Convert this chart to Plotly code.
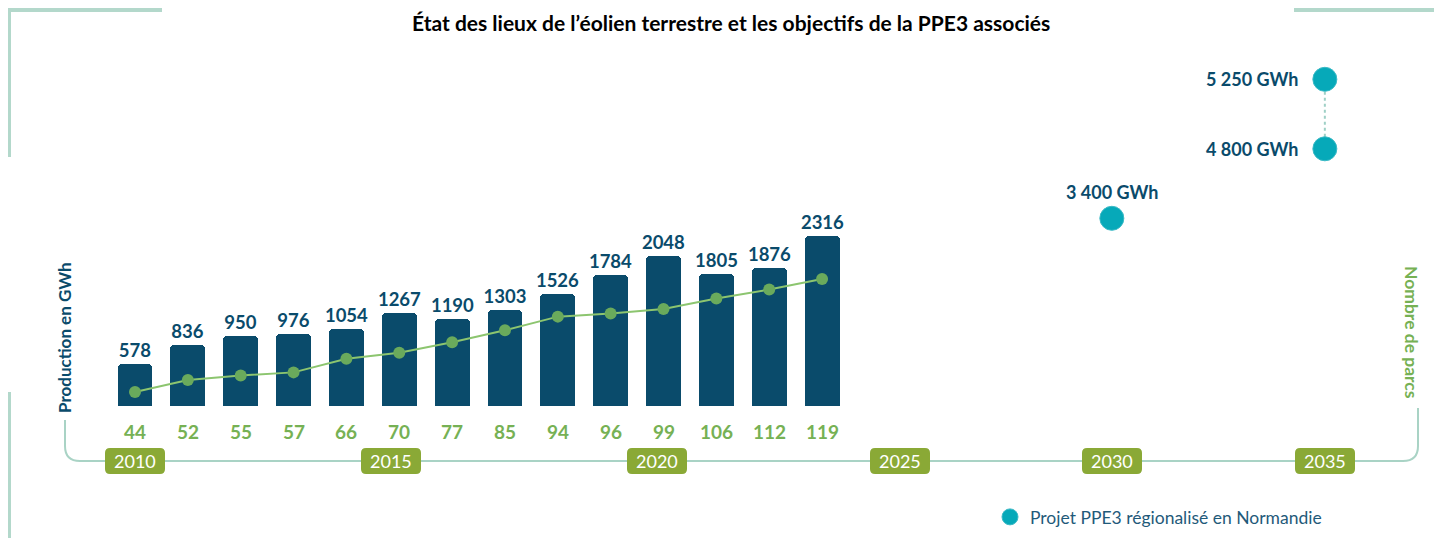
import plotly.graph_objects as go

# ---------------- data ----------------
years = [2010, 2011, 2012, 2013, 2014, 2015, 2016, 2017, 2018, 2019, 2020, 2021, 2022, 2023]
production_gwh = [578, 836, 950, 976, 1054, 1267, 1190, 1303, 1526, 1784, 2048, 1805, 1876, 2316]
nombre_parcs = [44, 52, 55, 57, 66, 70, 77, 85, 94, 96, 99, 106, 112, 119]

ppe_years = [2030, 2035, 2035]
ppe_values = [3400, 4800, 5250]

timeline_labels = ["2010", "2015", "2020", "2025", "2030", "2035"]

title_text = "État des lieux de l’éolien terrestre et les objectifs de la PPE3 associés"
legend_text = "Projet PPE3 régionalisé en Normandie"

# ---------------- layout helpers ----------------
OX, OY = 8, 8          # page offset of the figure (body margin)
W, H = 1434, 530
FONT = "Lato"
C_BAR = "#0a4b6b"
C_GREEN = "#76b154"
C_LINE = "#8cc56f"
C_MARK = "#6aaa5c"
C_PILL = "#8aa936"
C_TEAL = "#06a9b9"
C_FRAME = "#b3d8cb"


def fx(p):
    return (p - OX) / W


def fy(p):
    return 1 - (p - OY) / H


def fmt(v):
    return f"{v:,}".replace(",", " ") + " GWh"


ppe_labels = [fmt(v) for v in ppe_values]

fig = go.Figure()

# production bars
fig.add_trace(go.Bar(
    x=years, y=production_gwh,
    width=0.66,
    marker=dict(color=C_BAR, cornerradius=4, line=dict(width=0)),
    text=[str(v) for v in production_gwh],
    textposition="outside",
    constraintext="none",
    textfont=dict(family=FONT, size=18.5, color=C_BAR, weight="bold"),
    cliponaxis=False,
    showlegend=False,
    xaxis="x", yaxis="y",
))

# number of parks line
fig.add_trace(go.Scatter(
    x=years, y=nombre_parcs,
    mode="lines+markers",
    line=dict(color=C_LINE, width=2),
    marker=dict(color=C_MARK, size=12),
    showlegend=False,
    xaxis="x", yaxis="y2",
))

# dotted connector between 2035 targets
fig.add_trace(go.Scatter(
    x=ppe_years[1:], y=ppe_labels[1:],
    mode="lines",
    line=dict(color="#9fd0c6", width=2, dash="dot"),
    showlegend=False, hoverinfo="skip",
    xaxis="x2", yaxis="y3",
))

# PPE3 targets
fig.add_trace(go.Scatter(
    x=ppe_years, y=ppe_labels,
    mode="markers",
    marker=dict(color=C_TEAL, size=24, line=dict(color="#3bbac6", width=1)),
    name=legend_text,
    showlegend=True,
    xaxis="x2", yaxis="y3",
))

annotations = []

# value labels of targets
for yr, lab in zip(ppe_years, ppe_labels):
    if yr == 2030:
        annotations.append(dict(x=yr, y=lab, xref="x2", yref="y3", text=lab,
                                showarrow=False, xanchor="center", yanchor="bottom",
                                yshift=13,
                                font=dict(family=FONT, size=18, color=C_BAR, weight="bold")))
    else:
        annotations.append(dict(x=yr, y=lab, xref="x2", yref="y3", text=lab,
                                showarrow=False, xanchor="right", yanchor="middle",
                                xshift=-25,
                                font=dict(family=FONT, size=18, color=C_BAR, weight="bold")))

# parks count labels
for yr, n in zip(years, nombre_parcs):
    annotations.append(dict(x=yr, y=fy(431), xref="x", yref="paper", text=str(n),
                            showarrow=False, xanchor="center", yanchor="middle",
                            font=dict(family=FONT, size=19, color=C_GREEN, weight="bold")))

# timeline pills
pill_x_px = [135, 391, 657, 900, 1112, 1325]
pill_y_px = 461
pill_w, pill_h, pill_r = 60, 26, 5
shapes = []
for lab, px in zip(timeline_labels, pill_x_px):
    x0, x1 = px - pill_w / 2, px + pill_w / 2
    y0, y1 = pill_y_px - pill_h / 2, pill_y_px + pill_h / 2
    r = pill_r
    pts = [
        ("M", (x0 + r, y0)), ("L", (x1 - r, y0)), ("Q", (x1, y0, x1, y0 + r)),
        ("L", (x1, y1 - r)), ("Q", (x1, y1, x1 - r, y1)), ("L", (x0 + r, y1)),
        ("Q", (x0, y1, x0, y1 - r)), ("L", (x0, y0 + r)), ("Q", (x0, y0, x0 + r, y0)),
    ]
    path = ""
    for cmd, c in pts:
        if cmd == "Q":
            path += f"Q {fx(c[0])},{fy(c[1])} {fx(c[2])},{fy(c[3])} "
        else:
            path += f"{cmd} {fx(c[0])},{fy(c[1])} "
    path += "Z"
    shapes.append(dict(type="path", path=path, xref="paper", yref="paper",
                       fillcolor=C_PILL, line=dict(width=0), layer="above"))
    annotations.append(dict(x=fx(px), y=fy(pill_y_px), xref="paper", yref="paper",
                            text=lab, showarrow=False, xanchor="center", yanchor="middle",
                            font=dict(family=FONT, size=18, color="white")))

# timeline curve
tl = (f"M {fx(65)},{fy(420)} L {fx(65)},{fy(446)} Q {fx(65)},{fy(461)} {fx(80)},{fy(461)} "
      f"L {fx(1403)},{fy(461)} Q {fx(1418)},{fy(461)} {fx(1418)},{fy(446)} L {fx(1418)},{fy(408)}")
shapes.insert(0, dict(type="path", path=tl, xref="paper", yref="paper",
                      line=dict(color="#a9d3c5", width=2), layer="below"))

# frame decorations
for (xa, ya, xb, yb) in [(9, 10, 9, 157), (7, 10, 162, 10), (1294, 10, 1442, 10), (9, 392, 9, 538)]:
    shapes.append(dict(type="line", x0=fx(xa), y0=fy(ya), x1=fx(xb), y1=fy(yb),
                       xref="paper", yref="paper", line=dict(color=C_FRAME, width=4)))

# axis titles
annotations.append(dict(x=fx(64), y=fy(338), xref="paper", yref="paper",
                        text="Production en GWh", textangle=-90, showarrow=False,
                        xanchor="center", yanchor="middle",
                        font=dict(family=FONT, size=17, color=C_BAR, weight="bold")))
annotations.append(dict(x=fx(1412), y=fy(332), xref="paper", yref="paper",
                        text="Nombre de parcs", textangle=90, showarrow=False,
                        xanchor="center", yanchor="middle",
                        font=dict(family=FONT, size=17.5, color=C_GREEN, weight="bold")))

# title
annotations.append(dict(x=fx(731), y=1, xref="paper", yref="paper",
                        text=title_text, showarrow=False, xanchor="center", yanchor="top",
                        font=dict(family=FONT, size=21, color="black", weight="bold")))

fig.update_layout(
    width=W, height=H,
    margin=dict(l=0, r=0, t=0, b=0),
    paper_bgcolor="white", plot_bgcolor="white",
    xaxis=dict(range=[2007.597, 2034.73], visible=False, domain=[0, 1]),
    xaxis2=dict(range=[2004.088, 2037.75], visible=False, overlaying="x"),
    yaxis=dict(range=[-1798, 5422], visible=False, domain=[0, 1]),
    yaxis2=dict(range=[-52.9, 298.8], visible=False, overlaying="y"),
    yaxis3=dict(type="category", categoryorder="array", categoryarray=ppe_labels,
                range=[-4.6, 3.026], visible=False, overlaying="y"),
    shapes=shapes,
    annotations=annotations,
    legend=dict(x=fx(990), y=fy(517), xanchor="left", yanchor="middle",
                bgcolor="rgba(0,0,0,0)",
                font=dict(family=FONT, size=17.5, color="#1f5a7a"),
                itemsizing="trace"),
    bargap=0,
)

fig.write_html("out.html")
